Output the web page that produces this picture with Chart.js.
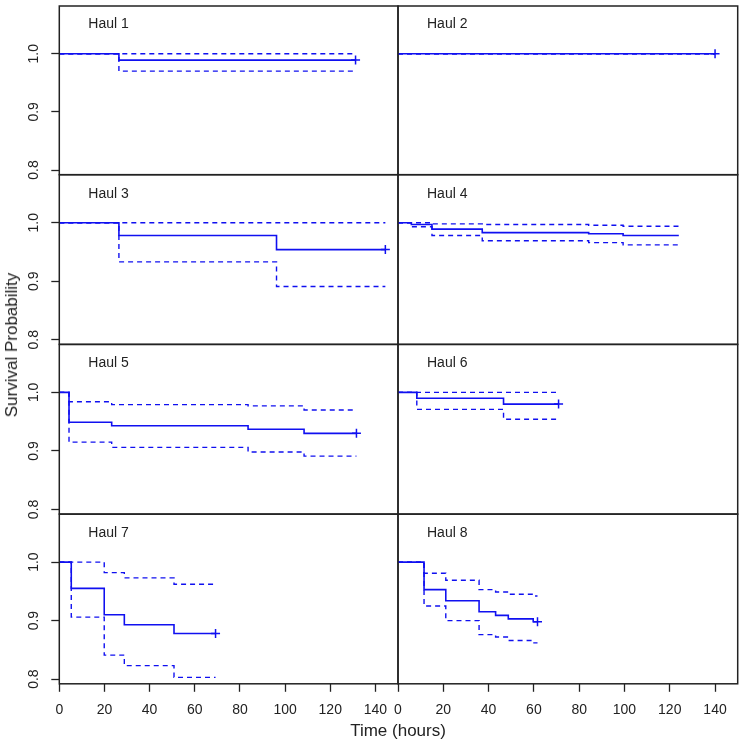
<!DOCTYPE html>
<html>
<head>
<meta charset="utf-8">
<script src="https://cdn.jsdelivr.net/npm/chart.js@4"></script>
<style>
  body { margin: 0; background: #fff; }
  #wrap { position: relative; width: 744px; height: 746px; overflow: hidden; }
  #wrap canvas { position: absolute; left: 0; top: 0; }
  .lbl { position: absolute; font-family: "Liberation Sans", Arial, sans-serif; color: #222; white-space: nowrap; }
  .haul { font-size: 14px; line-height: 16px; }
  .ttl { font-size: 17px; line-height: 20px; }
</style>
</head>
<body>
<div id="wrap"></div>
<script>
// drop times (hours) and Kaplan-Meier estimates
const haul1Times = [0, 26.4];
const haul1Surv  = [1, 0.989];
const haul1Upper = [1, 1];
const haul1Lower = [1, 0.970];
const haul1End = 131.2;

const haul2Times = [0];
const haul2Surv  = [1];
const haul2Upper = [1];
const haul2Lower = [1];
const haul2End = 140;

const haul3Times = [0, 26.4, 96.2];
const haul3Surv  = [1, 0.978, 0.954];
const haul3Upper = [1, 1, 1];
const haul3Lower = [1, 0.933, 0.891];
const haul3End = 144.4;

const haul4Times = [0, 5.9, 15.0, 37.2, 84.2, 99.4];
const haul4Surv  = [1, 0.997, 0.989, 0.983, 0.981, 0.978];
const haul4Upper = [1, 1, 0.998, 0.997, 0.9955, 0.994];
const haul4Lower = [1, 0.993, 0.978, 0.969, 0.966, 0.962];
const haul4End = 124;

const haul5Times = [0, 4.3, 23.2, 83.6, 108.4];
const haul5Surv  = [1, 0.949, 0.943, 0.937, 0.930];
const haul5Upper = [1, 0.984, 0.979, 0.977, 0.970];
const haul5Lower = [1, 0.915, 0.906, 0.898, 0.891];
const haul5End = 131.6;

const haul6Times = [0, 8.3, 46.6];
const haul6Surv  = [1, 0.990, 0.980];
const haul6Upper = [1, 1, 1];
const haul6Lower = [1, 0.971, 0.954];
const haul6End = 70.9;

const haul7Times = [0, 5.3, 19.9, 28.8, 50.8];
const haul7Surv  = [1, 0.955, 0.910, 0.893, 0.878];
const haul7Upper = [1, 1, 0.982, 0.973, 0.962];
const haul7Lower = [1, 0.906, 0.841, 0.823, 0.803];
const haul7End = 69.2;

const haul8Times = [0, 11.5, 21.1, 35.8, 43.1, 48.7, 59.7];
const haul8Surv  = [1, 0.953, 0.934, 0.915, 0.909, 0.903, 0.898];
const haul8Upper = [1, 0.981, 0.969, 0.953, 0.949, 0.945, 0.942];
const haul8Lower = [1, 0.925, 0.900, 0.876, 0.872, 0.866, 0.862];
const haul8End = 61.6;

const haulNames = ["Haul 1", "Haul 2", "Haul 3", "Haul 4", "Haul 5", "Haul 6", "Haul 7", "Haul 8"];
const censored = [true, true, true, false, true, true, true, true];
const xTicks = [0, 20, 40, 60, 80, 100, 120, 140];
const yTicks = [0.8, 0.9, 1.0];

const hauls = [
  [haul1Times, haul1Surv, haul1Upper, haul1Lower, haul1End],
  [haul2Times, haul2Surv, haul2Upper, haul2Lower, haul2End],
  [haul3Times, haul3Surv, haul3Upper, haul3Lower, haul3End],
  [haul4Times, haul4Surv, haul4Upper, haul4Lower, haul4End],
  [haul5Times, haul5Surv, haul5Upper, haul5Lower, haul5End],
  [haul6Times, haul6Surv, haul6Upper, haul6Lower, haul6End],
  [haul7Times, haul7Surv, haul7Upper, haul7Lower, haul7End],
  [haul8Times, haul8Surv, haul8Upper, haul8Lower, haul8End]
];

const W = 744, H = 746;
const colLeft = [59.3, 398], colRight = [398, 737.7];
const rowTop = 5, rowH = 169.7;
const fontFam = '"Liberation Sans", Arial, sans-serif';
const blue = "#1010f0";
const ink = "#222";

const wrap = document.getElementById("wrap");

function stepPoints(times, vals, end) {
  const pts = times.map((t, i) => ({x: t, y: vals[i]}));
  pts.push({x: end, y: vals[vals.length - 1]});
  return pts;
}

const framePlugin = {
  id: "frame",
  afterDraw(chart) {
    const a = chart.chartArea, ctx = chart.ctx;
    ctx.save();
    ctx.strokeStyle = ink;
    ctx.lineWidth = 1.5;
    ctx.strokeRect(a.left, a.top, a.right - a.left, a.bottom - a.top);
    ctx.restore();
  }
};

hauls.forEach((h, i) => {
  const col = i % 2, row = Math.floor(i / 2);
  const top = rowTop + row * rowH, bottom = top + rowH;
  const showY = col === 0, showX = row === 3;

  const cv = document.createElement("canvas");
  cv.width = W; cv.height = H;
  wrap.appendChild(cv);

  const [times, surv, upper, lower, end] = h;
  const dashed = {borderColor: blue, borderWidth: 1.4, borderDash: [5, 4], pointRadius: 0, stepped: true, fill: false};
  const datasets = [
    Object.assign({data: stepPoints(times, upper, end)}, dashed),
    Object.assign({data: stepPoints(times, lower, end)}, dashed),
    {data: stepPoints(times, surv, end), borderColor: blue, borderWidth: 1.6, pointRadius: 0, stepped: true, fill: false}
  ];
  if (censored[i]) {
    datasets.push({
      data: [{x: end, y: surv[surv.length - 1]}],
      showLine: false, pointStyle: "cross", pointRadius: 4.5,
      borderColor: blue, borderWidth: 1.5, pointBorderWidth: 1.5
    });
  }

  new Chart(cv, {
    type: "line",
    data: {datasets: datasets},
    options: {
      responsive: false,
      animation: false,
      events: [],
      layout: {
        padding: {
          left: showY ? 0 : colLeft[col],
          right: W - colRight[col],
          top: top,
          bottom: showX ? 0 : H - bottom
        }
      },
      plugins: {legend: {display: false}, tooltip: {enabled: false}},
      scales: {
        x: {
          type: "linear", min: 0, max: 150,
          display: showX,
          afterBuildTicks: s => { s.ticks = xTicks.map(v => ({value: v})); },
          afterFit: s => { s.height = showX ? H - bottom : 0; s.paddingLeft = 0; s.paddingRight = 0; },
          border: {display: false},
          grid: {drawOnChartArea: false, drawTicks: true, tickLength: 8, tickColor: ink, tickWidth: 1.3},
          ticks: {color: ink, font: {family: fontFam, size: 14}, padding: 10, maxRotation: 0, callback: v => v}
        },
        y: {
          type: "linear", min: 0.792, max: 1.082,
          display: showY,
          afterBuildTicks: s => { s.ticks = yTicks.map(v => ({value: v})); },
          afterFit: s => { s.width = showY ? colLeft[0] : 0; s.paddingTop = 0; s.paddingBottom = 0; },
          border: {display: false},
          grid: {drawOnChartArea: false, drawTicks: true, tickLength: 8, tickColor: ink, tickWidth: 1.3},
          ticks: {color: ink, font: {family: fontFam, size: 14}, padding: 7, minRotation: 90, maxRotation: 90,
                  crossAlign: "center", callback: v => v.toFixed(1)}
        }
      }
    },
    plugins: [framePlugin]
  });

  const lab = document.createElement("div");
  lab.className = "lbl haul";
  lab.textContent = haulNames[i];
  lab.style.left = (colLeft[col] + 29) + "px";
  lab.style.top = (top + 10) + "px";
  wrap.appendChild(lab);
});

const yTitle = document.createElement("div");
yTitle.className = "lbl ttl";
yTitle.textContent = "Survival Probability";
yTitle.style.left = "12px";
yTitle.style.top = "345px";
yTitle.style.transform = "translate(-50%, -50%) rotate(-90deg)";
wrap.appendChild(yTitle);

const xTitle = document.createElement("div");
xTitle.className = "lbl ttl";
xTitle.textContent = "Time (hours)";
xTitle.style.left = "398px";
xTitle.style.top = "731px";
xTitle.style.transform = "translate(-50%, -50%)";
wrap.appendChild(xTitle);
</script>
</body>
</html>
